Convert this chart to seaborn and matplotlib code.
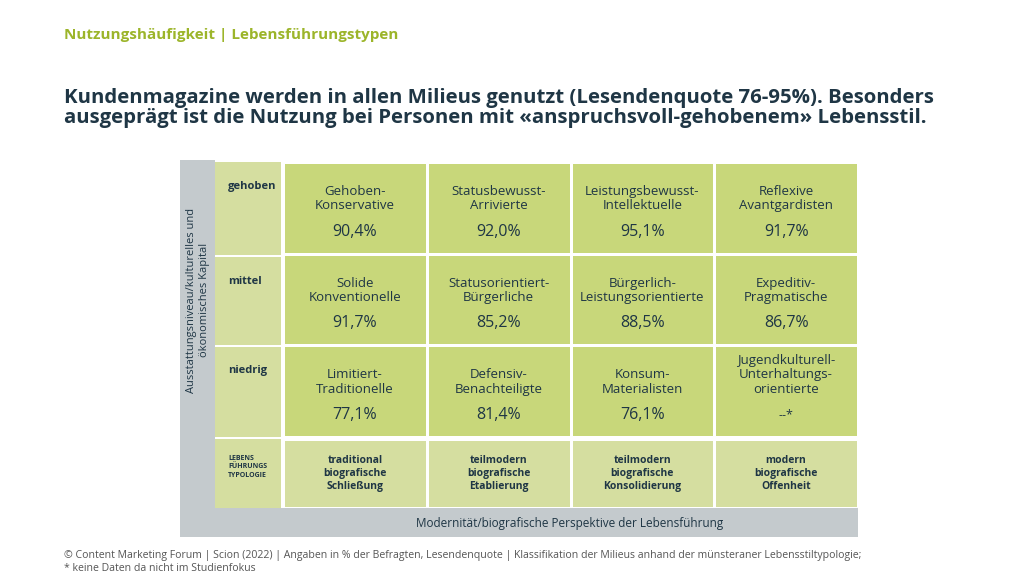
import numpy as np
import matplotlib
matplotlib.use("Agg")
import matplotlib.pyplot as plt
from matplotlib.colors import ListedColormap
from matplotlib.patches import Rectangle
import seaborn as sns

# data
rows = ["gehoben", "mittel", "niedrig"]
milieus = [
    ["Gehoben-\nKonservative", "Statusbewusst-\nArrivierte", "Leistungsbewusst-\nIntellektuelle", "Reflexive\nAvantgardisten"],
    ["Solide\nKonventionelle", "Statusorientiert-\nBürgerliche", "Bürgerlich-\nLeistungsorientierte", "Expeditiv-\nPragmatische"],
    ["Limitiert-\nTraditionelle", "Defensiv-\nBenachteiligte", "Konsum-\nMaterialisten", "Jugendkulturell-\nUnterhaltungs-\norientierte"],
]
quote = np.array([
    [90.4, 92.0, 95.1, 91.7],
    [91.7, 85.2, 88.5, 86.7],
    [77.1, 81.4, 76.1, np.nan],
])
typologie = ["traditional\nbiografische\nSchließung", "teilmodern\nbiografische\nEtablierung",
             "teilmodern\nbiografische\nKonsolidierung", "modern\nbiografische\nOffenheit"]

W, H = 1024, 581
green = "#c8d77a"
light = "#d5dea0"
grey = "#c4cacd"
dark = "#1f3645"

sns.set_theme(style="white")
plt.rcParams['font.family'] = ['Open Sans', 'DejaVu Sans']
fig = plt.figure(figsize=(W / 100, H / 100), dpi=100)
bg = fig.add_axes([0, 0, 1, 1])
bg.set_xlim(0, W)
bg.set_ylim(H, 0)
bg.axis("off")

def rect(x0, y0, x1, y1, c):
    bg.add_patch(Rectangle((x0, y0), x1 - x0, y1 - y0, color=c, lw=0))

# grey frame and label column
rect(180, 160, 858, 537, grey)
rect(215, 160, 858, 508, "white")
for i, r in enumerate(rows):
    y0 = [162, 257, 347][i]
    y1 = [255, 345, 437][i]
    rect(215, y0, 281, y1, light)
    bg.text(228, y0 + 24, r, fontsize=8, weight="bold", color=dark, va="center")
rect(215, 439, 281, 508, light)
bg.text(228, 467, "LEBENS\nFÜHRUNGS\nTYPOLOGIE", fontsize=5, weight="bold", color=dark,
        va="center", linespacing=1.25)
rect(283, 510, 858, 537, grey)
bg.text(570, 523, "Modernität/biografische Perspektive der Lebensführung", fontsize=8.5,
        color=dark, ha="center", va="center")
bg.text(198, 300, "Ausstattungsniveau/kulturelles und\nökonomisches Kapital", fontsize=8,
        color=dark, ha="center", va="center", rotation=90)

# heatmap of the milieu cells
ax = fig.add_axes([283 / W, 1 - 437 / H, (858 - 283) / W, (437 - 162) / H])
sns.heatmap(np.nan_to_num(quote), ax=ax, cmap=ListedColormap([green]), cbar=False,
            linewidths=2, linecolor="white", xticklabels=False, yticklabels=False)
for i in range(3):
    for j in range(4):
        name = milieus[i][j]
        n = name.count("\n")
        ax.text(j + 0.5, i + 0.40 - 0.08 * (n - 1), name, ha="center", va="center", fontsize=9.5,
                color=dark, linespacing=1.15)
        v = quote[i, j]
        lab = "--*" if np.isnan(v) else f"{v:.1f}%".replace(".", ",")
        ax.text(j + 0.5, i + 0.76, lab, ha="center", va="center",
                fontsize=11.5 if not np.isnan(v) else 9, color=dark)

ax2 = fig.add_axes([283 / W, 1 - 508 / H, (858 - 283) / W, (508 - 439) / H])
sns.heatmap(np.zeros((1, 4)), ax=ax2, cmap=ListedColormap([light]), cbar=False,
            linewidths=2, linecolor="white", xticklabels=False, yticklabels=False)
for j, t in enumerate(typologie):
    ax2.text(j + 0.5, 0.5, t, ha="center", va="center", fontsize=7.5, weight="bold",
             color=dark, linespacing=1.3)

bg.text(64, 35, "Nutzungshäufigkeit | Lebensführungstypen", fontsize=11, weight="bold",
        color="#9cb52a", va="center")
bg.text(64, 108, "Kundenmagazine werden in allen Milieus genutzt (Lesendenquote 76-95%). Besonders\n"
        "ausgeprägt ist die Nutzung bei Personen mit «anspruchsvoll-gehobenem» Lebensstil.",
        fontsize=14.7, weight="bold", color=dark, va="center", linespacing=1.05)
bg.text(64, 562, "© Content Marketing Forum | Scion (2022) | Angaben in % der Befragten, Lesendenquote | "
        "Klassifikation der Milieus anhand der münsteraner Lebensstiltypologie;\n* keine Daten da nicht im Studienfokus",
        fontsize=7.6, color="#555555", va="center", linespacing=1.2)

fig.savefig("out.png", dpi=100)
